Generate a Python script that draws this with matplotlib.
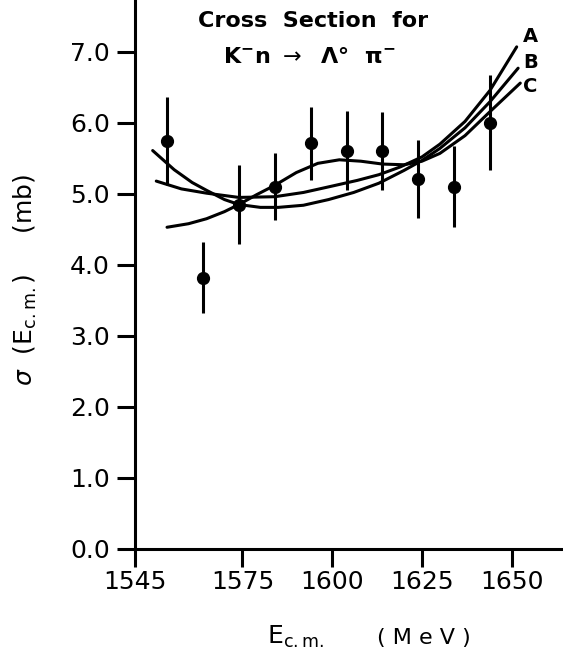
import matplotlib.pyplot as plt

# measured points
energy = [1554, 1564, 1574, 1584, 1594, 1604, 1614, 1624, 1634, 1644]
sigma = [5.75, 3.82, 4.85, 5.10, 5.71, 5.61, 5.60, 5.21, 5.10, 6.00]
sigma_err = [0.62, 0.50, 0.55, 0.47, 0.52, 0.55, 0.55, 0.55, 0.57, 0.67]

# fit curves
e_a = [1551, 1558, 1565, 1574, 1584, 1592, 1600, 1607, 1613, 1619, 1625, 1630, 1637, 1644, 1651.4]
s_a = [5.18, 5.07, 5.01, 4.95, 4.96, 5.02, 5.11, 5.19, 5.27, 5.38, 5.52, 5.70, 6.02, 6.46, 7.07]

e_b = [1550, 1556, 1561, 1565, 1570, 1574, 1580, 1585, 1592, 1599, 1606, 1613, 1620, 1625, 1630, 1637, 1644, 1651.8]
s_b = [5.61, 5.34, 5.16, 5.05, 4.92, 4.85, 4.81, 4.81, 4.84, 4.92, 5.02, 5.15, 5.33, 5.47, 5.64, 5.93, 6.30, 6.77]

e_c = [1554, 1560, 1565, 1570, 1574, 1579, 1584, 1590, 1596, 1602, 1608, 1614, 1620, 1625, 1630, 1637, 1644, 1652.4]
s_c = [4.53, 4.58, 4.65, 4.75, 4.85, 4.99, 5.12, 5.30, 5.43, 5.48, 5.46, 5.42, 5.41, 5.46, 5.57, 5.82, 6.16, 6.56]

curve_names = ["A", "B", "C"]
label_y = [7.21, 6.85, 6.51]

x_ticks = [1545, 1575, 1600, 1625, 1650]
y_ticks = [0, 1, 2, 3, 4, 5, 6, 7]

LW = 2.2

fig = plt.figure(figsize=(5.63, 6.58), dpi=100)
ax = fig.add_axes([0.2393, 0.1657, 0.7607, 0.8343])

for e, s in [(e_a, s_a), (e_b, s_b), (e_c, s_c)]:
    ax.plot(e, s, color="black", lw=LW, solid_capstyle="round", solid_joinstyle="round")

ax.errorbar(energy, sigma, yerr=sigma_err, fmt="o", color="black", ms=8.5,
            elinewidth=LW, capsize=0)

for name, ly in zip(curve_names, label_y):
    ax.text(1653.2, ly, name, fontsize=14, fontweight="bold", ha="left", va="center")

ax.set_xlim(1545, 1664.3)
ax.set_ylim(0, 7.73)
ax.set_xticks(x_ticks)
ax.set_xticklabels([str(t) for t in x_ticks])
ax.set_yticks(y_ticks)
ax.set_yticklabels([f"{t:.1f}" for t in y_ticks])

for sp in ["top", "right"]:
    ax.spines[sp].set_visible(False)
for sp in ["left", "bottom"]:
    ax.spines[sp].set_linewidth(LW)

ax.tick_params(axis="both", direction="out", length=13, width=LW, labelsize=18)
ax.tick_params(axis="x", pad=2)
ax.tick_params(axis="y", pad=5)

# title and axis labels placed in figure pixels
fig.text(313 / 563, 1 - 21 / 658, "Cross  Section  for", fontsize=16, fontweight="bold",
         ha="center", va="center")
fig.text(309 / 563, 1 - 57 / 658, r"K$^{\mathbf{-}}$n $\rightarrow$  $\mathbf{\Lambda}$°  $\mathbf{\pi^{-}}$",
         fontsize=16, fontweight="bold", ha="center", va="center")

fig.text(267 / 563, 1 - 644 / 658, r"E$_{\mathregular{c.m.}}$", fontsize=18, ha="left", va="baseline")
fig.text(377 / 563, 1 - 644 / 658, "( M e V )", fontsize=16, ha="left", va="baseline")

fig.text(25 / 563, 1 - 280 / 658, r"$\sigma$  (E$_{\mathregular{c.m.}}$)     (mb)", fontsize=18,
         rotation=90, ha="center", va="center")

plt.savefig("out.png", dpi=100)
